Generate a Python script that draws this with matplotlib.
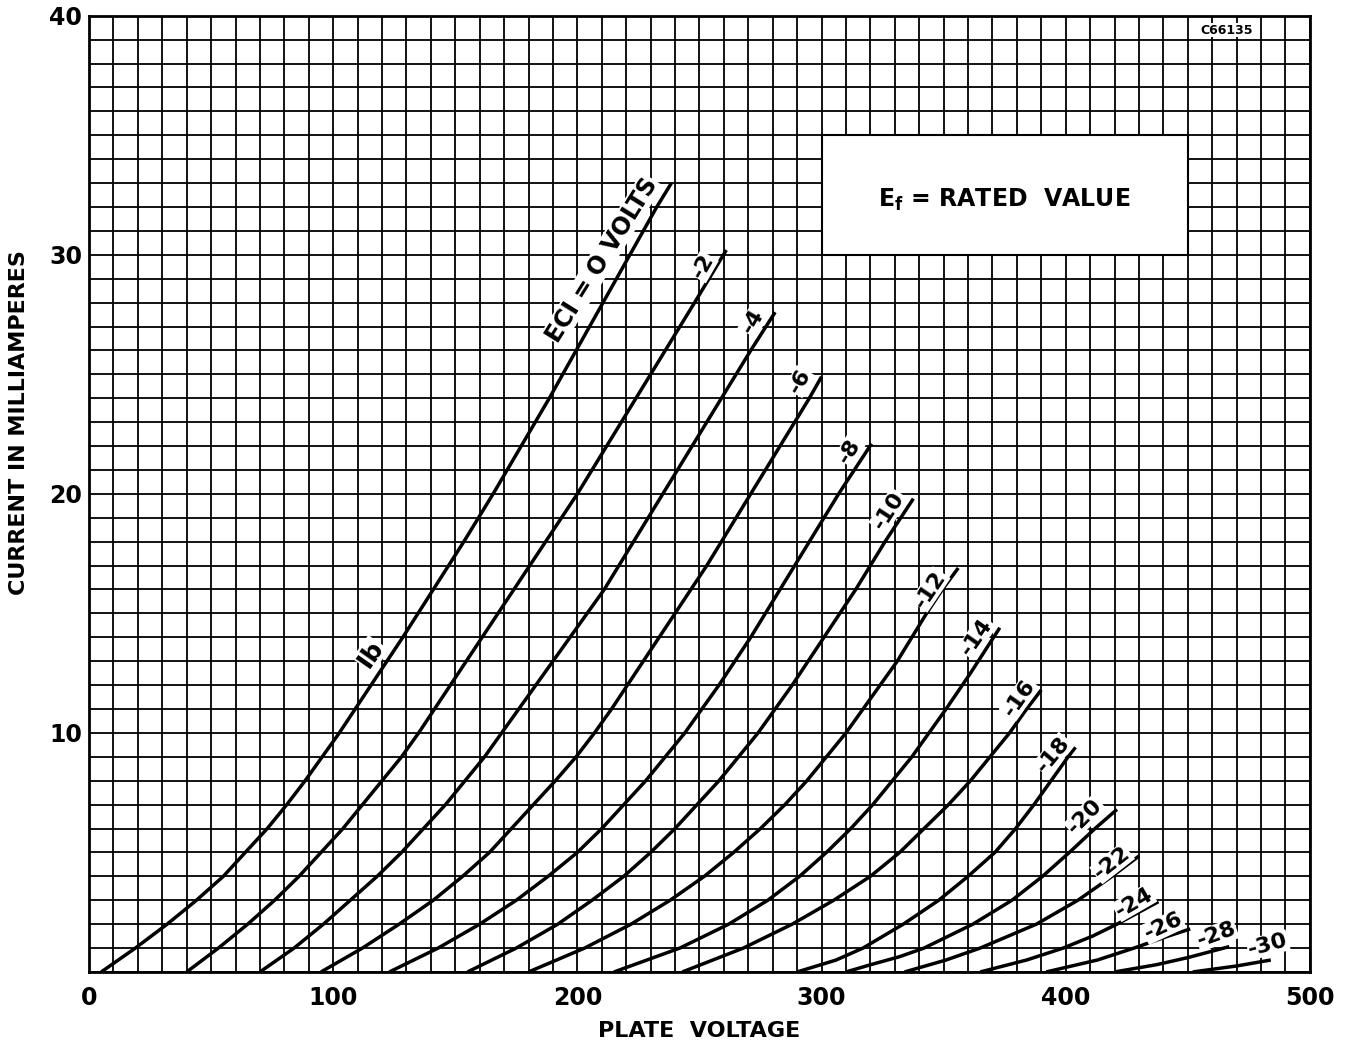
import matplotlib
matplotlib.use("Agg")
import matplotlib.pyplot as plt
from matplotlib.ticker import MultipleLocator
from matplotlib.patches import Rectangle

plt.rcParams['font.family'] = ['DejaVu Sans']
plt.rcParams['font.weight'] = 'bold'
plt.rcParams['mathtext.default'] = 'bf'

# plate voltage (V) / plate current (mA), one pair per grid bias
v_0 = [5, 19, 32, 44, 55, 64, 73, 81, 88.5, 95.5, 102.5, 115.5, 128.5, 141, 153.5, 165.5, 177, 188.5, 199.5, 210.5, 221.5, 232.5, 238.5]
i_0 = [0, 1, 2, 3, 4, 5, 6, 7, 8, 9, 10, 12, 14, 16, 18, 20, 22, 24, 26, 28, 30, 32, 33]
v_2 = [40, 53, 65, 76, 86, 95, 104, 112, 120, 128, 135, 148, 161, 174, 187, 200, 212, 224, 236, 248, 261]
i_2 = [0, 1, 2, 3, 4, 5, 6, 7, 8, 9, 10, 12, 14, 16, 18, 20, 22, 24, 26, 28, 30.2]
v_4 = [70, 84, 96, 107, 118, 128, 137, 146, 154, 162, 169, 176, 183, 190, 197, 204, 211, 217, 223, 235, 247, 259, 271, 281]
i_4 = [0, 1, 2, 3, 4, 5, 6, 7, 8, 9, 10, 11, 12, 13, 14, 15, 16, 17, 18, 20, 22, 24, 26, 27.6]
v_6 = [95, 112, 127, 141, 153, 164, 173, 182, 191, 199.5, 207, 214, 220.5, 227, 233.5, 240, 246.5, 253, 259, 265, 271, 283, 295, 300]
i_6 = [0, 1, 2, 3, 4, 5, 6, 7, 8, 9, 10, 11, 12, 13, 14, 15, 16, 17, 18, 19, 20, 22, 24, 24.9]
v_8 = [123, 143, 160, 175, 188, 200, 210, 219, 228, 236, 244, 251, 258, 271, 283, 295, 307, 320.5]
i_8 = [0, 1, 2, 3, 4, 5, 6, 7, 8, 9, 10, 11, 12, 14, 16, 18, 20, 22.1]
v_10 = [155, 175, 192, 206, 219, 230, 240, 249, 258, 266, 274, 288, 301, 314, 326, 337.6]
i_10 = [0, 1, 2, 3, 4, 5, 6, 7, 8, 9, 10, 12, 14, 16, 18, 19.8]
v_12 = [180, 203, 222, 238, 252, 264, 275, 285, 294, 302, 310, 317, 324, 331, 337, 343, 349.5, 356]
i_12 = [0, 1, 2, 3, 4, 5, 6, 7, 8, 9, 10, 11, 12, 13, 14, 15, 16, 16.9]
v_14 = [215, 242, 262, 278, 291, 302, 312, 321, 329, 337, 344, 351, 361, 373]
i_14 = [0, 1, 2, 3, 4, 5, 6, 7, 8, 9, 10, 11, 12.5, 14.4]
v_16 = [243, 268, 288, 305, 320, 332, 342, 352, 361, 369, 377, 384, 390]
i_16 = [0, 1, 2, 3, 4, 5, 6, 7, 8, 9, 10, 11, 11.8]
v_18 = [290, 306, 317, 333.5, 348, 360, 371, 379.5, 387, 394, 401, 404]
i_18 = [0, 0.5, 1, 2, 3, 4, 5, 6, 7, 8, 9, 9.4]
v_20 = [310, 320, 332, 342, 362, 378, 390.5, 401.5, 412, 421]
i_20 = [0, 0.3, 0.64, 1, 2, 3, 4, 5, 6, 6.8]
v_22 = [334, 351, 365, 388, 405, 419, 430]
i_22 = [0, 0.5, 1, 2, 3, 4, 4.85]
v_24 = [365, 384, 399, 411, 421, 430, 438]
i_24 = [0, 0.5, 1.0, 1.5, 2.0, 2.5, 2.94]
v_26 = [392, 413, 428, 442, 451]
i_26 = [0, 0.5, 1.0, 1.5, 1.8]
v_28 = [420, 437, 450, 467]
i_28 = [0, 0.3, 0.6, 1.06]
v_30 = [452, 470, 484]
i_30 = [0, 0.25, 0.5]

curves = [(v_0, i_0), (v_2, i_2), (v_4, i_4), (v_6, i_6), (v_8, i_8), (v_10, i_10),
          (v_12, i_12), (v_14, i_14), (v_16, i_16), (v_18, i_18), (v_20, i_20),
          (v_22, i_22), (v_24, i_24), (v_26, i_26), (v_28, i_28), (v_30, i_30)]

# curve labels: text, centre (V, mA), angle
bias_labels = ["ECI = O VOLTS", "-2", "-4", "-6", "-8", "-10", "-12", "-14", "-16",
               "-18", "-20", "-22", "-24", "-26", "-28", "-30"]
label_v = [210, 251.5, 272, 291, 311.5, 327.5, 344.5, 363.5, 381, 395, 408, 419, 428, 440, 461.8, 482.8]
label_i = [29.8, 29.5, 27.2, 24.7, 21.8, 19.3, 16.0, 14.0, 11.45, 9.1, 6.5, 4.55, 2.9, 1.9, 1.55, 1.13]
label_rot = [58, 60, 60, 60, 58, 57, 56, 55, 55, 50, 45, 38, 30, 25, 20, 15]

fig = plt.figure(figsize=(13.55, 10.45), dpi=100)
ax = fig.add_axes([0.0657, 0.0699, 0.901, 0.915])
ax.set_xlim(0, 500)
ax.set_ylim(0, 40)

ax.xaxis.set_major_locator(MultipleLocator(100))
ax.xaxis.set_minor_locator(MultipleLocator(10))
ax.yaxis.set_major_locator(MultipleLocator(10))
ax.yaxis.set_minor_locator(MultipleLocator(1))
ax.grid(which='both', color='black', linewidth=1.3)
ax.set_axisbelow(True)
ax.tick_params(which='both', length=0)
ax.tick_params(axis='x', labelsize=17, pad=10)
ax.tick_params(axis='y', labelsize=17, pad=5)
ax.set_yticks([10, 20, 30, 40])
for s in ax.spines.values():
    s.set_linewidth(2)

for v, i in curves:
    ax.plot(v, i, color='black', linewidth=2.5, solid_capstyle='butt',
            solid_joinstyle='round', zorder=3)

for n, (txt, x, y, r) in enumerate(zip(bias_labels, label_v, label_i, label_rot)):
    ax.text(x, y, txt, rotation=r, rotation_mode='anchor', ha='center', va='center',
            fontsize=17 if n == 0 else 16, zorder=4,
            bbox=dict(facecolor='white', edgecolor='none', pad=0.5))

ax.text(115.3, 13.3, "Ib", rotation=55, rotation_mode='anchor', ha='center', va='center',
        fontsize=18, zorder=4, bbox=dict(facecolor='white', edgecolor='none', pad=0.5))

ax.add_patch(Rectangle((300, 30), 150, 5, facecolor='white', edgecolor='black',
                       linewidth=1.5, zorder=2))
ax.text(375, 32.3, r"E$_f$ = RATED  VALUE", ha='center', va='center', fontsize=17, zorder=4)

ax.text(466, 39.4, "C66135", ha='center', va='center', fontsize=9, zorder=4,
        bbox=dict(facecolor='white', edgecolor='none', pad=0.5))

ax.set_xlabel("PLATE  VOLTAGE", fontsize=16, fontweight='bold', labelpad=8)
ax.set_ylabel("CURRENT IN MILLIAMPERES", fontsize=16, fontweight='bold')
ax.yaxis.set_label_coords(-0.049, 0.575)

fig.savefig("out.png", dpi=100)
